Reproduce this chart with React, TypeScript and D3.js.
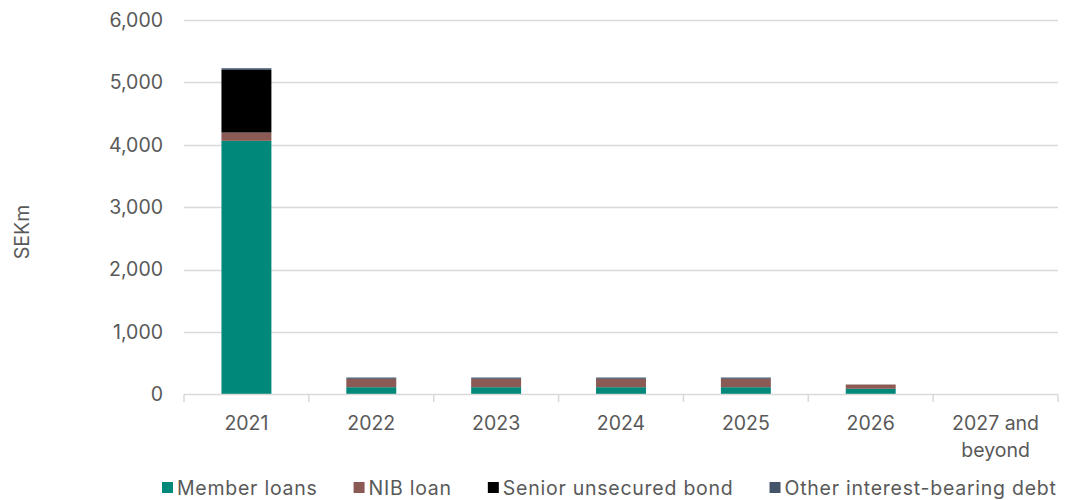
import React, { useEffect, useRef } from "react";
import * as d3 from "d3";

const categories = ["2021", "2022", "2023", "2024", "2025", "2026", "2027 and beyond"];
const seriesNames = ["Member loans", "NIB loan", "Senior unsecured bond", "Other interest-bearing debt"];
const memberLoans = [4064, 117, 117, 117, 117, 91, 0];
const nibLoan = [133, 134, 134, 134, 134, 69, 0];
const seniorBond = [1003, 0, 0, 0, 0, 0, 0];
const otherDebt = [27, 21, 21, 21, 21, 0, 0];
const yTicks = [0, 1000, 2000, 3000, 4000, 5000, 6000];
const colors = ["#00897B", "#8B5A55", "#000000", "#44546A"];

const W = 1067;
const H = 500;
const FONT = "Inter, 'Noto Sans', sans-serif";
const TEXT = "#595959";

export default function App() {
  const ref = useRef<SVGSVGElement>(null);
  useEffect(() => {
    const svg = d3.select(ref.current);
    svg.selectAll("*").remove();
    const x = d3.scaleBand<string>().domain(categories).range([184, 1058]).paddingInner(0.6).paddingOuter(0.3);
    const xb = d3.scaleBand<string>().domain(categories).range([184, 1058]);
    const y = d3.scaleLinear().domain([0, 6000]).range([394.5, 20]);

    // grid
    svg.append("g").selectAll("line").data(yTicks.slice(1)).join("line")
      .attr("x1", 184).attr("x2", 1058)
      .attr("y1", (d) => Math.round(y(d)) + 0.5).attr("y2", (d) => Math.round(y(d)) + 0.5)
      .attr("stroke", "#d9d9d9").attr("stroke-width", 1.3);

    // y labels
    svg.append("g").selectAll("text").data(yTicks).join("text")
      .attr("x", 163).attr("y", (d) => y(d)).attr("dy", "0.35em")
      .attr("text-anchor", "end").attr("font-family", FONT).attr("font-size", 19.5).attr("fill", TEXT)
      .text((d) => d3.format(",")(d));

    // stacked bars
    const rows = categories.map((c, i) => ({ cat: c, s0: memberLoans[i], s1: nibLoan[i], s2: seniorBond[i], s3: otherDebt[i] }));
    const stack = d3.stack<any>().keys(["s0", "s1", "s2", "s3"])(rows);
    svg.append("g").selectAll("g").data(stack).join("g")
      .attr("fill", (_d, i) => colors[i])
      .selectAll("rect").data((d) => d).join("rect")
      .attr("x", (d) => x(d.data.cat)!).attr("width", x.bandwidth())
      .attr("y", (d) => y(d[1])).attr("height", (d) => Math.max(0, y(d[0]) - y(d[1])));

    // x axis line & ticks
    svg.append("line").attr("x1", 184).attr("x2", 1058).attr("y1", 394.5).attr("y2", 394.5)
      .attr("stroke", "#d9d9d9").attr("stroke-width", 1.5);
    const tickXs = categories.map((c) => xb(c)!).concat([1058]);
    svg.append("g").selectAll("line").data(tickXs).join("line")
      .attr("x1", (d) => d).attr("x2", (d) => d).attr("y1", 394.5).attr("y2", 402)
      .attr("stroke", "#d9d9d9").attr("stroke-width", 1.5);

    // x labels
    const xl = svg.append("g").selectAll("text").data(categories).join("text")
      .attr("x", (d) => xb(d)! + xb.bandwidth() / 2).attr("y", 430)
      .attr("text-anchor", "middle").attr("font-family", FONT).attr("font-size", 19.5).attr("fill", TEXT);
    xl.each(function (d) {
      const t = d3.select(this);
      const parts = d === "2027 and beyond" ? ["2027 and", "beyond"] : [d];
      parts.forEach((p, i) => {
        t.append("tspan").attr("x", xb(d)! + xb.bandwidth() / 2).attr("dy", i === 0 ? 0 : 26.5).text(p);
      });
    });

    // y title
    svg.append("text").attr("transform", "translate(29,232) rotate(-90)")
      .attr("text-anchor", "middle").attr("font-family", FONT).attr("font-size", 19.5).attr("fill", TEXT)
      .text("SEKm");

    // legend
    const lg = svg.append("g");
    let cx = 162;
    seriesNames.forEach((name, i) => {
      lg.append("rect").attr("x", cx).attr("y", 482).attr("width", 11).attr("height", 11).attr("fill", colors[i]);
      const t = lg.append("text").attr("x", cx + 15).attr("y", 494.5)
        .attr("font-family", FONT).attr("font-size", 19.5).attr("letter-spacing", 0.75).attr("fill", TEXT).text(name);
      const w = (t.node() as SVGTextElement).getComputedTextLength();
      cx = cx + 15 + w + 36;
    });
  }, []);
  return <svg ref={ref} width={W} height={H} style={{ position: "absolute", left: 0, top: 0 }} />;
}
